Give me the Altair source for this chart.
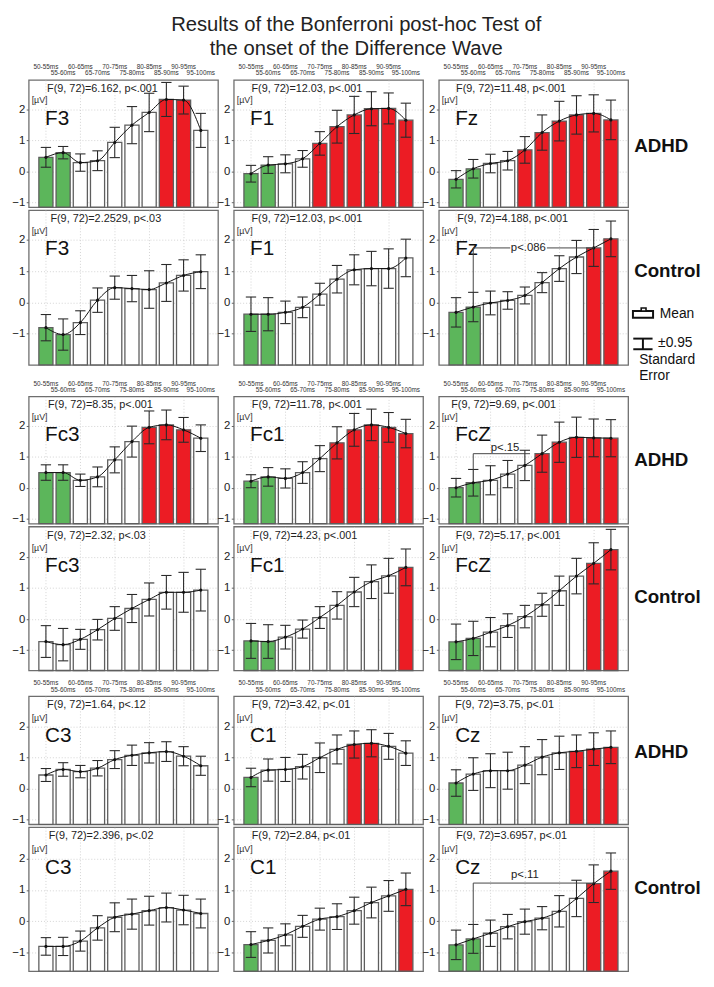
import altair as alt
import pandas as pd

FONT = "Liberation Sans"
GREEN = "#5cb65b"
RED = "#ec1c24"
GRID = "#c8c8c8"
ERRC = "#2a2a2a"

TIME_LABELS = ["50-55ms", "55-60ms", "60-65ms", "65-70ms", "70-75ms",
               "75-80ms", "80-85ms", "85-90ms", "90-95ms", "95-100ms"]
SLOTS = list(range(1, 11))
Y_TICKS = [-1, 0, 1, 2]

# ---- means and +-0.95 standard-error half widths, significance colouring ----
F3_ADHD_MEAN = [0.45, 0.60, 0.28, 0.34, 0.93, 1.49, 1.90, 2.32, 2.30, 1.32]
F3_ADHD_ERR = [0.32, 0.20, 0.28, 0.32, 0.49, 0.60, 0.62, 0.55, 0.45, 0.55]
F3_ADHD_SIG = ["g", "g", "w", "w", "w", "w", "w", "r", "r", "w"]

F1_ADHD_MEAN = [-0.08, 0.20, 0.24, 0.40, 0.90, 1.44, 1.82, 2.02, 2.03, 1.65]
F1_ADHD_ERR = [0.27, 0.27, 0.29, 0.27, 0.38, 0.53, 0.60, 0.55, 0.50, 0.55]
F1_ADHD_SIG = ["g", "g", "w", "w", "r", "r", "r", "r", "r", "r"]

FZ_ADHD_MEAN = [-0.26, 0.08, 0.25, 0.34, 0.69, 1.25, 1.62, 1.82, 1.87, 1.66]
FZ_ADHD_ERR = [0.28, 0.30, 0.30, 0.30, 0.43, 0.57, 0.64, 0.62, 0.60, 0.64]
FZ_ADHD_SIG = ["g", "g", "w", "w", "r", "r", "r", "r", "r", "r"]

F3_CTRL_MEAN = [-0.81, -1.03, -0.65, 0.07, 0.47, 0.44, 0.41, 0.62, 0.86, 0.98]
F3_CTRL_ERR = [0.42, 0.50, 0.38, 0.39, 0.37, 0.42, 0.60, 0.59, 0.50, 0.54]
F3_CTRL_SIG = ["g", "g", "w", "w", "w", "w", "w", "w", "w", "w"]

F1_CTRL_MEAN = [-0.38, -0.38, -0.32, -0.16, 0.26, 0.74, 1.04, 1.08, 1.08, 1.42]
F1_CTRL_ERR = [0.55, 0.53, 0.36, 0.33, 0.35, 0.44, 0.48, 0.55, 0.63, 0.60]
F1_CTRL_SIG = ["g", "g", "w", "w", "w", "w", "w", "w", "w", "w"]

FZ_CTRL_MEAN = [-0.32, -0.15, -0.02, 0.06, 0.22, 0.63, 1.08, 1.45, 1.74, 2.03]
FZ_CTRL_ERR = [0.47, 0.47, 0.38, 0.28, 0.27, 0.32, 0.41, 0.53, 0.59, 0.57]
FZ_CTRL_SIG = ["g", "g", "w", "w", "w", "w", "w", "w", "r", "r"]

FC3_ADHD_MEAN = [0.49, 0.49, 0.24, 0.35, 0.90, 1.49, 1.95, 2.03, 1.87, 1.60]
FC3_ADHD_ERR = [0.25, 0.25, 0.20, 0.32, 0.42, 0.50, 0.53, 0.48, 0.40, 0.43]
FC3_ADHD_SIG = ["g", "g", "w", "w", "w", "w", "r", "r", "r", "w"]

FC1_ADHD_MEAN = [0.21, 0.35, 0.30, 0.49, 0.94, 1.45, 1.87, 2.03, 1.95, 1.75]
FC1_ADHD_ERR = [0.21, 0.30, 0.31, 0.35, 0.42, 0.52, 0.53, 0.51, 0.48, 0.46]
FC1_ADHD_SIG = ["g", "g", "w", "w", "w", "r", "r", "r", "r", "r"]

FCZ_ADHD_MEAN = [0.00, 0.16, 0.24, 0.44, 0.72, 1.10, 1.47, 1.63, 1.61, 1.60]
FCZ_ADHD_ERR = [0.30, 0.43, 0.47, 0.44, 0.49, 0.60, 0.65, 0.65, 0.61, 0.60]
FCZ_ADHD_SIG = ["g", "g", "w", "w", "w", "r", "r", "r", "r", "r"]

FC3_CTRL_MEAN = [-0.72, -0.82, -0.65, -0.34, 0.02, 0.34, 0.63, 0.86, 0.86, 0.93]
FC3_CTRL_ERR = [0.51, 0.52, 0.32, 0.33, 0.38, 0.45, 0.53, 0.54, 0.64, 0.67]
FC3_CTRL_SIG = ["w", "w", "w", "w", "w", "w", "w", "w", "w", "w"]

FC1_CTRL_MEAN = [-0.70, -0.72, -0.58, -0.32, 0.05, 0.44, 0.87, 1.20, 1.39, 1.66]
FC1_CTRL_ERR = [0.56, 0.54, 0.38, 0.29, 0.35, 0.44, 0.47, 0.54, 0.56, 0.59]
FC1_CTRL_SIG = ["g", "g", "w", "w", "w", "w", "w", "w", "w", "r"]

FCZ_CTRL_MEAN = [-0.73, -0.62, -0.42, -0.21, 0.08, 0.46, 0.91, 1.38, 1.79, 2.23]
FCZ_CTRL_ERR = [0.57, 0.55, 0.47, 0.38, 0.36, 0.37, 0.47, 0.57, 0.66, 0.65]
FCZ_CTRL_SIG = ["g", "g", "w", "w", "w", "w", "w", "w", "r", "r"]

C3_ADHD_MEAN = [0.44, 0.62, 0.55, 0.66, 0.94, 1.08, 1.16, 1.20, 1.05, 0.74]
C3_ADHD_ERR = [0.21, 0.22, 0.20, 0.25, 0.29, 0.33, 0.33, 0.32, 0.31, 0.31]
C3_ADHD_SIG = ["w", "w", "w", "w", "w", "w", "w", "w", "w", "w"]

C1_ADHD_MEAN = [0.36, 0.60, 0.62, 0.71, 1.00, 1.27, 1.43, 1.47, 1.37, 1.15]
C1_ADHD_ERR = [0.30, 0.36, 0.39, 0.40, 0.48, 0.47, 0.44, 0.44, 0.42, 0.40]
C1_ADHD_SIG = ["g", "w", "w", "w", "w", "w", "r", "r", "w", "w"]

CZ_ADHD_MEAN = [0.18, 0.47, 0.58, 0.58, 0.76, 1.02, 1.16, 1.21, 1.28, 1.34]
CZ_ADHD_ERR = [0.43, 0.53, 0.55, 0.60, 0.60, 0.57, 0.54, 0.53, 0.53, 0.53]
CZ_ADHD_SIG = ["g", "w", "w", "w", "w", "w", "w", "r", "r", "r"]

C3_CTRL_MEAN = [-0.80, -0.80, -0.63, -0.21, 0.13, 0.23, 0.34, 0.44, 0.36, 0.25]
C3_CTRL_ERR = [0.28, 0.29, 0.32, 0.39, 0.46, 0.48, 0.46, 0.46, 0.47, 0.46]
C3_CTRL_SIG = ["w", "w", "w", "w", "w", "w", "w", "w", "w", "w"]

C1_CTRL_MEAN = [-0.74, -0.61, -0.43, -0.16, 0.07, 0.15, 0.34, 0.60, 0.81, 1.02]
C1_CTRL_ERR = [0.41, 0.40, 0.35, 0.35, 0.35, 0.41, 0.43, 0.49, 0.49, 0.52]
C1_CTRL_SIG = ["g", "w", "w", "w", "w", "w", "w", "w", "w", "r"]

CZ_CTRL_MEAN = [-0.75, -0.56, -0.38, -0.17, -0.01, 0.10, 0.32, 0.73, 1.20, 1.60]
CZ_CTRL_ERR = [0.47, 0.46, 0.42, 0.39, 0.40, 0.37, 0.50, 0.58, 0.60, 0.58]
CZ_CTRL_SIG = ["g", "g", "w", "w", "w", "w", "w", "w", "r", "r"]

# ---- p-value brackets (segment end points in data units) ----
FZ_CTRL_BRACKET = {"x": [2, 2, 6.28], "x2": [2, 4.15, 9], "y": [0.33, 1.74, 1.74], "y2": [1.74, 1.74, 1.74]}
FZ_CTRL_BRACKET_TEXT = "p<.086"
FCZ_ADHD_BRACKET = {"x": [2, 2], "x2": [2, 5.3], "y": [0.59, 1.1], "y2": [1.1, 1.1]}
FCZ_ADHD_BRACKET_TEXT = "p<.15"
CZ_CTRL_BRACKET = {"x": [2, 2], "x2": [2, 9], "y": [-0.10, 1.22], "y2": [1.22, 1.22]}
CZ_CTRL_BRACKET_TEXT = "p<.11"


def scales(ydom):
    xs = alt.Scale(domain=[0, 11], nice=False, zero=False)
    ys = alt.Scale(domain=list(ydom), nice=False, zero=False)
    return xs, ys


# Helper layers leave the axis unset, so the panel's explicit axis (from the bar layer) wins.
def text_layer(ydom, xv, yv, txt, **kw):
    xs, ys = scales(ydom)
    df = pd.DataFrame({"x": [xv], "y": [yv], "t": [txt]})
    return alt.Chart(df).mark_text(font=FONT, **kw).encode(
        x=alt.X("x:Q", scale=xs),
        y=alt.Y("y:Q", scale=ys),
        text="t:N",
    )


def rule_layer(ydom, segs, color="#333333", width=1.0):
    xs, ys = scales(ydom)
    df = pd.DataFrame(segs)
    return alt.Chart(df).mark_rule(color=color, strokeWidth=width).encode(
        x=alt.X("x:Q", scale=xs), x2="x2:Q",
        y=alt.Y("y:Q", scale=ys), y2="y2:Q",
    )


def rect_layer(ydom, x, x2, y, y2, **kw):
    xs, ys = scales(ydom)
    df = pd.DataFrame({"x": [x], "x2": [x2], "y": [y], "y2": [y2]})
    return alt.Chart(df).mark_rect(**kw).encode(
        x=alt.X("x:Q", scale=xs), x2="x2:Q",
        y=alt.Y("y:Q", scale=ys), y2="y2:Q",
    )


def time_label_layer(ydom, height):
    ymin, ymax = ydom
    xs, ys = scales(ydom)
    ppu = height / (ymax - ymin)
    df = pd.DataFrame({
        "slot": SLOTS,
        "t": TIME_LABELS,
        "y": [ymax + (10.8 if s % 2 == 1 else 4.6) / ppu for s in SLOTS],
    })
    return alt.Chart(df).mark_text(font=FONT, fontSize=6.5, color="#333333",
                                   baseline="alphabetic", align="center").encode(
        x=alt.X("slot:Q", scale=xs),
        y=alt.Y("y:Q", scale=ys),
        text="t:N",
    )


def panel(name, stat, mean, err, sig, height, ydom, top_axis=False, stat_x=1.05, extras=()):
    ymin, ymax = ydom
    xs, ys = scales(ydom)
    df = pd.DataFrame({
        "slot": SLOTS,
        "left": [s - 0.41 for s in SLOTS],
        "right": [s + 0.41 for s in SLOTS],
        "capl": [s - 0.3 for s in SLOTS],
        "capr": [s + 0.3 for s in SLOTS],
        "mean": mean,
        "lo": [m - e for m, e in zip(mean, err)],
        "hi": [m + e for m, e in zip(mean, err)],
        "sig": sig,
        "base": [ymin] * len(mean),
    })
    xaxis = alt.Axis(values=SLOTS, labels=False, ticks=False, domain=False, grid=True,
                     gridColor=GRID, gridDash=[1, 2], gridWidth=0.8, title="")
    yaxis = alt.Axis(values=Y_TICKS, labelFont=FONT, labelFontSize=11.5, labelColor="#222222",
                     tickSize=2.5, tickColor="#666666", labelPadding=1.5, domain=False,
                     grid=True, gridColor=GRID, gridDash=[1, 2], gridWidth=0.8, title="")

    base = alt.Chart(df)
    bars = base.mark_rect(stroke="#5e5e5e", strokeWidth=1.3).encode(
        x=alt.X("left:Q", scale=xs, axis=xaxis), x2="right:Q",
        y=alt.Y("mean:Q", scale=ys, axis=yaxis), y2="base:Q",
        fill=alt.Fill("sig:N", scale=alt.Scale(domain=["g", "r", "w"],
                                               range=[GREEN, RED, "#ffffff"]), legend=None),
    )
    err_v = base.mark_rule(color=ERRC, strokeWidth=1.1).encode(
        x=alt.X("slot:Q", scale=xs),
        y=alt.Y("lo:Q", scale=ys), y2="hi:Q")
    cap_lo = base.mark_rule(color=ERRC, strokeWidth=1.1).encode(
        x=alt.X("capl:Q", scale=xs), x2="capr:Q",
        y=alt.Y("lo:Q", scale=ys))
    cap_hi = base.mark_rule(color=ERRC, strokeWidth=1.1).encode(
        x=alt.X("capl:Q", scale=xs), x2="capr:Q",
        y=alt.Y("hi:Q", scale=ys))
    line = base.mark_line(color="#111111", strokeWidth=1, interpolate="monotone").encode(
        x=alt.X("slot:Q", scale=xs),
        y=alt.Y("mean:Q", scale=ys))
    pts = base.mark_circle(size=10, color="#111111", opacity=1).encode(
        x=alt.X("slot:Q", scale=xs),
        y=alt.Y("mean:Q", scale=ys))

    layers = [bars, err_v, cap_lo, cap_hi, line, pts,
              text_layer(ydom, 0.95, 1.5, name, align="left", baseline="alphabetic",
                         fontSize=21, color="#111111"),
              text_layer(ydom, 0.17, 2.2, "[µV]", align="left", baseline="alphabetic",
                         fontSize=9, color="#333333"),
              text_layer(ydom, stat_x, ymax - 0.39, stat, align="left", baseline="alphabetic",
                         fontSize=11, color="#222222")]
    if top_axis:
        layers.append(time_label_layer(ydom, height))
    layers += [f(ydom) for f in extras]
    return alt.layer(*layers).properties(width=192, height=height)


def spacer(height):
    df = pd.DataFrame({"a": [0.0]})
    return alt.Chart(df).mark_point(opacity=0).encode(
        x=alt.X("a:Q", axis=None), y=alt.Y("a:Q", axis=None)
    ).properties(width=192, height=height, view=alt.ViewBackground(strokeOpacity=0))


def group_label(text, yv):
    return lambda ydom: text_layer(ydom, 11.35, yv, text, align="left", baseline="middle",
                                   fontSize=19, fontWeight="bold", color="#111111")


def bracket(segs, txt, tx, ty, baseline):
    return [lambda ydom: rule_layer(ydom, segs, color="#444444", width=1.0),
            lambda ydom: text_layer(ydom, tx, ty, txt, align="center", baseline=baseline,
                                    fontSize=11.5, color="#222222")]


legend_items = [
    lambda d: rect_layer(d, 11.28, 12.45, -0.49, -0.28, fill="#ffffff", stroke="#111111", strokeWidth=2),
    lambda d: rect_layer(d, 11.76, 12.04, -0.28, -0.18, fill="#ffffff", stroke="#111111", strokeWidth=1.6),
    lambda d: text_layer(d, 12.84, -0.38, "Mean", align="left", baseline="middle", fontSize=14, color="#111111"),
    lambda d: rule_layer(d, {"x": [11.3, 11.86, 11.3], "x2": [12.42, 11.86, 12.42],
                             "y": [-1.16, -1.16, -1.5], "y2": [-1.16, -1.5, -1.5]},
                         color="#111111", width=2),
    lambda d: text_layer(d, 12.74, -1.44, "±0.95", align="left", baseline="alphabetic", fontSize=14, color="#111111"),
    lambda d: text_layer(d, 11.64, -1.96, "Standard", align="left", baseline="alphabetic", fontSize=14, color="#111111"),
    lambda d: text_layer(d, 11.64, -2.49, "Error", align="left", baseline="alphabetic", fontSize=14, color="#111111"),
]

D1A, D1C = (-1.16, 2.95), (-2.0, 2.95)
D2A, D2C = (-1.16, 2.95), (-1.65, 2.97)
D3A, D3C = (-1.16, 3.0), (-1.59, 3.0)
H1A, H1C, H2A, H2C, H3A, H3C = 129, 157, 129, 146, 130, 146

cells = [
    panel("F3", "F(9, 72)=6.162, p<.001", F3_ADHD_MEAN, F3_ADHD_ERR, F3_ADHD_SIG, H1A, D1A, True, 1.07),
    panel("F1", "F(9, 72)=12.03, p<.001", F1_ADHD_MEAN, F1_ADHD_ERR, F1_ADHD_SIG, H1A, D1A, True, 1.03),
    panel("Fz", "F(9, 72)=11.48, p<.001", FZ_ADHD_MEAN, FZ_ADHD_ERR, FZ_ADHD_SIG, H1A, D1A, True, 1.0,
          [group_label("ADHD", 0.81)]),

    panel("F3", "F(9, 72)=2.2529, p<.03", F3_CTRL_MEAN, F3_CTRL_ERR, F3_CTRL_SIG, H1C, D1C, False, 1.26),
    panel("F1", "F(9, 72)=12.03, p<.001", F1_CTRL_MEAN, F1_CTRL_ERR, F1_CTRL_SIG, H1C, D1C, False, 1.03),
    panel("Fz", "F(9, 72)=4.188, p<.001", FZ_CTRL_MEAN, FZ_CTRL_ERR, FZ_CTRL_SIG, H1C, D1C, False, 1.07,
          [group_label("Control", 0.99)]
          + bracket(FZ_CTRL_BRACKET, FZ_CTRL_BRACKET_TEXT, 5.2, 1.74, "middle")
          + legend_items),

    spacer(26), spacer(26), spacer(26),

    panel("Fc3", "F(9, 72)=8.35, p<.001", FC3_ADHD_MEAN, FC3_ADHD_ERR, FC3_ADHD_SIG, H2A, D2A, True, 1.12),
    panel("Fc1", "F(9, 72)=11.78, p<.001", FC1_ADHD_MEAN, FC1_ADHD_ERR, FC1_ADHD_SIG, H2A, D2A, True, 1.05),
    panel("FcZ", "F(9, 72)=9.69, p<.001", FCZ_ADHD_MEAN, FCZ_ADHD_ERR, FCZ_ADHD_SIG, H2A, D2A, True, 0.72,
          [group_label("ADHD", 0.9)]
          + bracket(FCZ_ADHD_BRACKET, FCZ_ADHD_BRACKET_TEXT, 3.85, 1.2, "alphabetic")),

    panel("Fc3", "F(9, 72)=2.32, p<.03", FC3_CTRL_MEAN, FC3_CTRL_ERR, FC3_CTRL_SIG, H2C, D2C, False, 1.07),
    panel("Fc1", "F(9, 72)=4.23, p<.001", FC1_CTRL_MEAN, FC1_CTRL_ERR, FC1_CTRL_SIG, H2C, D2C, False, 1.09),
    panel("FcZ", "F(9, 72)=5.17, p<.001", FCZ_CTRL_MEAN, FCZ_CTRL_ERR, FCZ_CTRL_SIG, H2C, D2C, False, 0.99,
          [group_label("Control", 0.7)]),

    spacer(20), spacer(20), spacer(20),

    panel("C3", "F(9, 72)=1.64, p<.12", C3_ADHD_MEAN, C3_ADHD_ERR, C3_ADHD_SIG, H3A, D3A, True, 1.07),
    panel("C1", "F(9, 72)=3.42, p<.01", C1_ADHD_MEAN, C1_ADHD_ERR, C1_ADHD_SIG, H3A, D3A, True, 1.04),
    panel("Cz", "F(9, 72)=3.75, p<.01", CZ_ADHD_MEAN, CZ_ADHD_ERR, CZ_ADHD_SIG, H3A, D3A, True, 0.95,
          [group_label("ADHD", 1.2)]),

    panel("C3", "F(9, 72)=2.396, p<.02", C3_CTRL_MEAN, C3_CTRL_ERR, C3_CTRL_SIG, H3C, D3C, False, 1.16),
    panel("C1", "F(9, 72)=2.84, p<.01", C1_CTRL_MEAN, C1_CTRL_ERR, C1_CTRL_SIG, H3C, D3C, False, 1.04),
    panel("Cz", "F(9, 72)=3.6957, p<.01", CZ_CTRL_MEAN, CZ_CTRL_ERR, CZ_CTRL_SIG, H3C, D3C, False, 1.01,
          [group_label("Control", 1.07)]
          + bracket(CZ_CTRL_BRACKET, CZ_CTRL_BRACKET_TEXT, 5.0, 1.38, "alphabetic")),
]

chart = alt.concat(*cells, columns=3, spacing={"row": 3, "column": 16}, bounds="flush").properties(
    title=alt.TitleParams(
        text=["Results of the Bonferroni post-hoc Test of", "the onset of the Difference Wave"],
        font=FONT, fontSize=20.5, fontWeight="normal", color="#222222",
        anchor="middle", lineHeight=25, offset=4,
    ),
    padding={"left": 3, "top": 0, "right": 4, "bottom": 4},
).configure_view(stroke="#6e6e6e", strokeWidth=1.3)

chart.save("out.html", embed_options={"renderer": "svg", "actions": False})
